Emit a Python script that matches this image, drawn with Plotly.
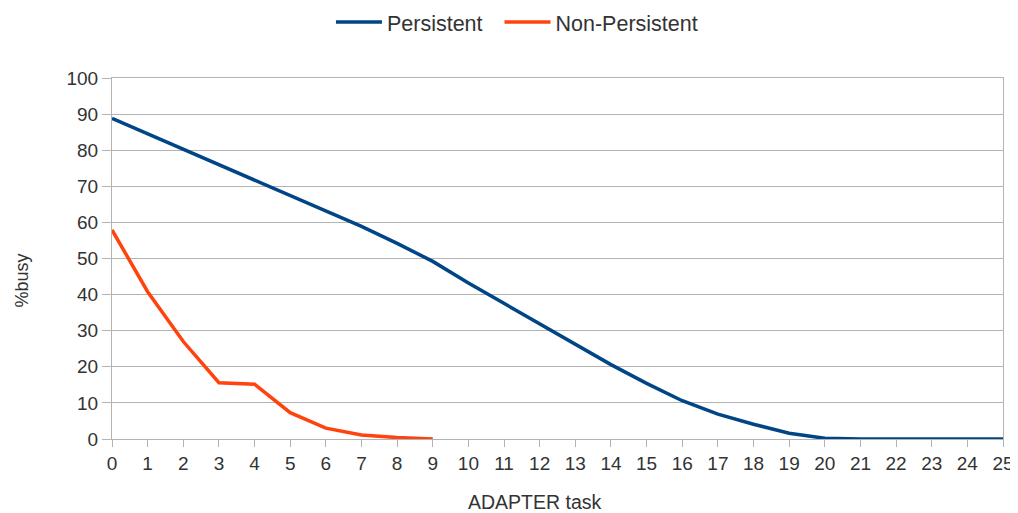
import plotly.graph_objects as go

tasks = list(range(26))
persistent = [88.8, 84.5, 80.2, 76.0, 71.6, 67.4, 63.2, 58.9, 54.2, 49.2,
              43.2, 37.6, 31.9, 26.2, 20.6, 15.4, 10.6, 6.9, 4.1, 1.6,
              0.2, 0, 0, 0, 0, 0]
non_persistent = [57.9, 40.8, 27.0, 15.6, 15.2, 7.3, 3.0, 1.1, 0.4, 0]

font = "Liberation Sans, Arial, sans-serif"

fig = go.Figure()
fig.add_trace(go.Scatter(x=tasks, y=persistent, mode="lines", name="Persistent  ",
                         line=dict(color="#004586", width=3.5)))
fig.add_trace(go.Scatter(x=tasks[:len(non_persistent)], y=non_persistent, mode="lines",
                         name="Non-Persistent", line=dict(color="#ff420e", width=3.5)))

# page body has an 8px margin, so the figure is a bit smaller than the window
fig.update_layout(
    width=1010, height=505,
    margin=dict(l=104, r=15, t=70, b=74),
    paper_bgcolor="white", plot_bgcolor="white",
    font=dict(family=font, size=19, color="#333333"),
    legend=dict(orientation="h", x=0.4545, xanchor="center", y=0.972, yanchor="middle",
                yref="container", font=dict(size=21.5), itemwidth=46),
    xaxis=dict(range=[0, 25], tickmode="linear", dtick=1, showgrid=False,
               showline=True, linecolor="#b3b3b3", mirror=True, automargin=False,
               ticks="outside", ticklen=7, tickcolor="#b3b3b3", zeroline=False,
               ticklabeloverflow="allow"),
    yaxis=dict(range=[0, 100], dtick=10, showgrid=True, gridcolor="#b3b3b3",
               showline=True, linecolor="#b3b3b3", mirror=True, automargin=False,
               ticks="outside", ticklen=9, tickcolor="#b3b3b3", zeroline=False),
    annotations=[
        dict(text="ADAPTER task", xref="paper", yref="paper", x=0.475, y=0,
             yanchor="middle", yshift=-63, showarrow=False, font=dict(size=19.5)),
        dict(text="%busy", xref="paper", yref="paper", x=0, y=0.439,
             xanchor="center", xshift=-90, textangle=-90, showarrow=False,
             font=dict(size=18)),
    ],
)

fig.write_html("out.html")
